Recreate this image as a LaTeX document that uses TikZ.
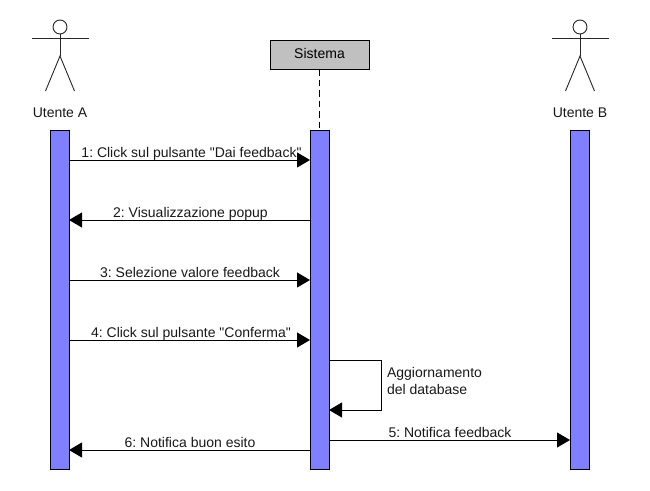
\documentclass[tikz,border=0pt]{standalone}
\usepackage{fontspec}
\setmainfont{Liberation Sans}
\newfontfamily\plainsans{Liberation Sans}
\frenchspacing
\usetikzlibrary{arrows.meta,calc}
\definecolor{barblue}{RGB}{128,128,255}
\definecolor{boxgrey}{RGB}{192,192,192}
\tikzset{
  x=1pt,y=-1pt,
  lifebar/.style={draw=black,fill=barblue,line width=1pt,minimum width=19pt,inner sep=0pt,outer sep=0pt},
  sysbox/.style={draw=black,fill=boxgrey,line width=1pt,minimum width=99pt,minimum height=29pt,inner sep=0pt,outer sep=0pt,font=\plainsans\fontsize{14}{17}\selectfont},
  actorline/.style={line width=0.9pt,draw=black!85},
  msg/.style={line width=0.9pt,-{Triangle[length=13pt,width=15pt,fill=black]}},
  lbl/.style={inner sep=0pt,outer sep=0pt,font=\plainsans\fontsize{14}{17}\selectfont,text=black!90},
  msglbl/.style={lbl,anchor=base},
}
\newcommand{\stickman}[2]{%
  \node[draw=black!85,circle,line width=0.9pt,minimum size=14pt,inner sep=0pt,outer sep=0pt] (#2head) at (#1,27) {};
  \coordinate (#2hip) at (#1,56);
  \coordinate (#2ll) at (#1-14.5,91);
  \coordinate (#2lr) at (#1+14.5,91);
  \coordinate (#2al) at (#1-28.5,38);
  \coordinate (#2ar) at (#1+28.5,38);
  \draw[actorline] (#2head.south) -- (#2hip);
  \draw[actorline] (#2al) -- (#2ar);
  \draw[actorline] (#2ll) -- (#2hip) -- (#2lr);
}
\begin{document}
\begin{tikzpicture}
\useasboundingbox[fill=white] (0,0) rectangle (650,490);
% lifebars
\node[lifebar,minimum height=339pt] (barA) at (59.5,299.5) {};
\node[lifebar,minimum height=339pt] (barS) at (319.5,299.5) {};
\node[lifebar,minimum height=339pt] (barB) at (579.5,299.5) {};
% system box
\node[sysbox] (sys) at (319.5,54.5) {\raisebox{1.5pt}{Sistema}};
\draw[line width=0.9pt,dash pattern=on 6.5pt off 4pt] (sys.south) -- (barS.north);
% actors
\stickman{60}{ua}
\stickman{580}{ub}
\node[msglbl] (nameA) at (60,117.5) {Utente A};
\node[msglbl] (nameB) at (580,117.5) {Utente B};
% message levels
\coordinate (m1) at (0,160);
\coordinate (m2) at (0,220);
\coordinate (m3) at (0,280);
\coordinate (m4) at (0,340);
\coordinate (m5) at (0,440);
\coordinate (m6) at (0,450);
\coordinate (selfa) at (381,360);
\coordinate (selfb) at (381,410);
\draw[msg] (barA.east |- m1) -- (barS.west |- m1);
\draw[msg] (barS.west |- m2) -- (barA.east |- m2);
\draw[msg] (barA.east |- m3) -- (barS.west |- m3);
\draw[msg] (barA.east |- m4) -- (barS.west |- m4);
\draw[msg] (barS.east |- selfa) -- (selfa) -- (selfb) -- (barS.east |- selfb);
\draw[msg] (barS.east |- m5) -- (barB.west |- m5);
\draw[msg] (barS.west |- m6) -- (barA.east |- m6);
% labels
\node[msglbl] (t1) at (191.5,157) {1: Click sul pulsante "Dai feedback"};
\node[msglbl] (t2) at (190.5,217) {2: Visualizzazione popup};
\node[msglbl] (t3) at (190,277) {3: Selezione valore feedback};
\node[msglbl] (t4) at (191,337) {4: Click sul pulsante "Conferma"};
\node[lbl,align=left,anchor=west] (t7) at (387,381) {Aggiornamento\\del database};
\node[msglbl] (t5) at (450,437) {5: Notifica feedback};
\node[msglbl] (t6) at (190,447) {6: Notifica buon esito};
\end{tikzpicture}
\end{document}
